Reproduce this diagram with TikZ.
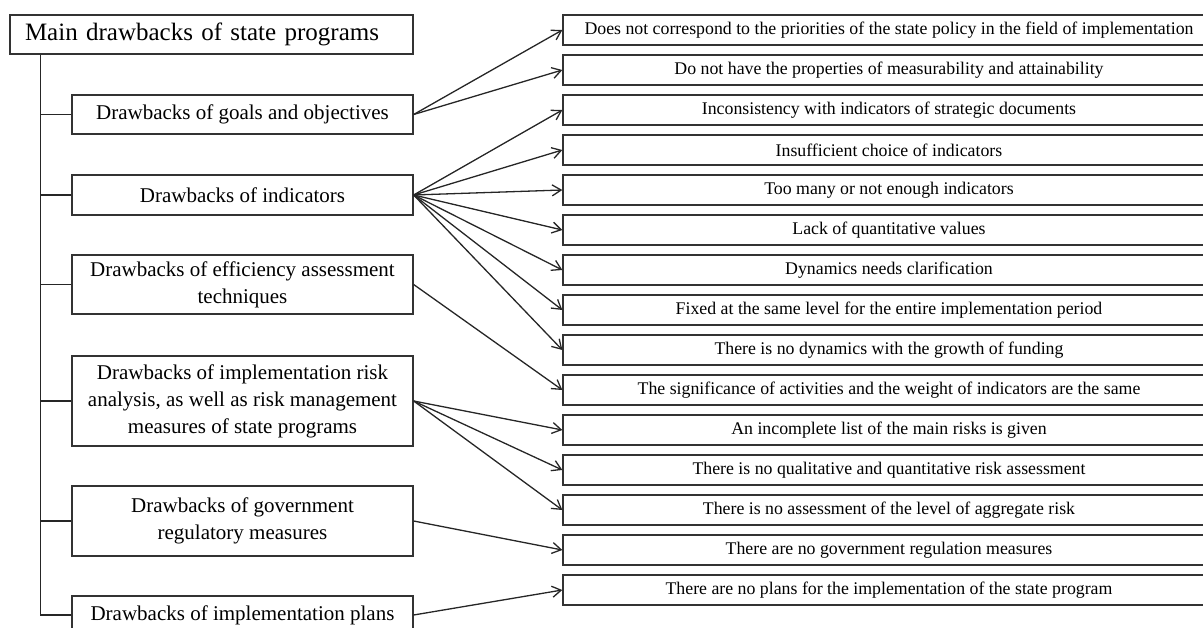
\documentclass[tikz,border=0pt]{standalone}
\usepackage{fontspec}
\setmainfont{Liberation Serif}
\usetikzlibrary{arrows.meta,positioning}

\begin{document}
\begin{tikzpicture}[
      x=1pt, y=-1pt,
      head/.style={rectangle, draw=black!80, line width=1.3pt, minimum width=403pt, minimum height=39pt, inner ysep=0pt, inner xsep=15pt, text width=373pt, align=left, font=\fontsize{25}{29}\selectfont},
      group/.style={rectangle, draw=black!80, line width=1.3pt, minimum width=341pt, inner sep=0pt, align=center, font=\fontsize{21}{27}\selectfont},
      item/.style={rectangle, draw=black!80, line width=1.3pt, minimum width=652pt, minimum height=30pt, inner sep=0pt, font=\fontsize{17.8}{20}\selectfont},
      line/.style={draw=black!85, line width=1.3pt},
      arr/.style={line, -{Straight Barb[length=9pt, width=11pt]}}
    ]
    \clip (0,0) rectangle (1203,628);
    \node[head] (main) at (211.5, 34.5) {Main drawbacks of state programs};
    \node[group, minimum height=39pt] (goals) at (242.5, 114.5) {Drawbacks of goals and objectives};
    \node[group, minimum height=40pt] (ind) at (242.5, 195) {Drawbacks of indicators};
    \node[group, minimum height=59pt] (eff) at (242.5, 284.5) {Drawbacks of efficiency assessment\\techniques};
    \node[group, minimum height=90pt] (risk) at (242.5, 401) {Drawbacks of implementation risk\\analysis, as well as risk management\\measures of state programs};
    \node[group, minimum height=70pt] (gov) at (242.5, 521) {Drawbacks of government\\regulatory measures};
    \node[group, minimum height=38pt] (plans) at (242.5, 615) {Drawbacks of implementation plans};
    % right column
    \foreach \txt [count=\i from 0] in {
        Does not correspond to the priorities of the state policy in the field of implementation,
        Do not have the properties of measurability and attainability,
        Inconsistency with indicators of strategic documents,
        Insufficient choice of indicators,
        Too many or not enough indicators,
        Lack of quantitative values,
        Dynamics needs clarification,
        Fixed at the same level for the entire implementation period,
        There is no dynamics with the growth of funding,
        The significance of activities and the weight of indicators are the same,
        An incomplete list of the main risks is given,
        There is no qualitative and quantitative risk assessment,
        There is no assessment of the level of aggregate risk,
        There are no government regulation measures,
        There are no plans for the implementation of the state program} {
        \node[item] (r\i) at (889, {30+40*\i}) {\txt};
    }
    % trunk
    \coordinate (trunk) at ([xshift=31pt]main.south west);
    \draw[line] (trunk) -- (trunk |- plans.west);
    \foreach \g in {goals, ind, eff, risk, gov, plans}
        \draw[line] (trunk |- \g.west) -- (\g.west);
    % arrows
    \foreach \j in {0,1} \draw[arr] (goals.east) -- (r\j.west);
    \foreach \j in {2,...,8} \draw[arr] (ind.east) -- (r\j.west);
    \draw[arr] (eff.east) -- (r9.west);
    \foreach \j in {10,11,12} \draw[arr] (risk.east) -- (r\j.west);
    \draw[arr] (gov.east) -- (r13.west);
    \draw[arr] (plans.east) -- (r14.west);
  \end{tikzpicture}
\end{document}
